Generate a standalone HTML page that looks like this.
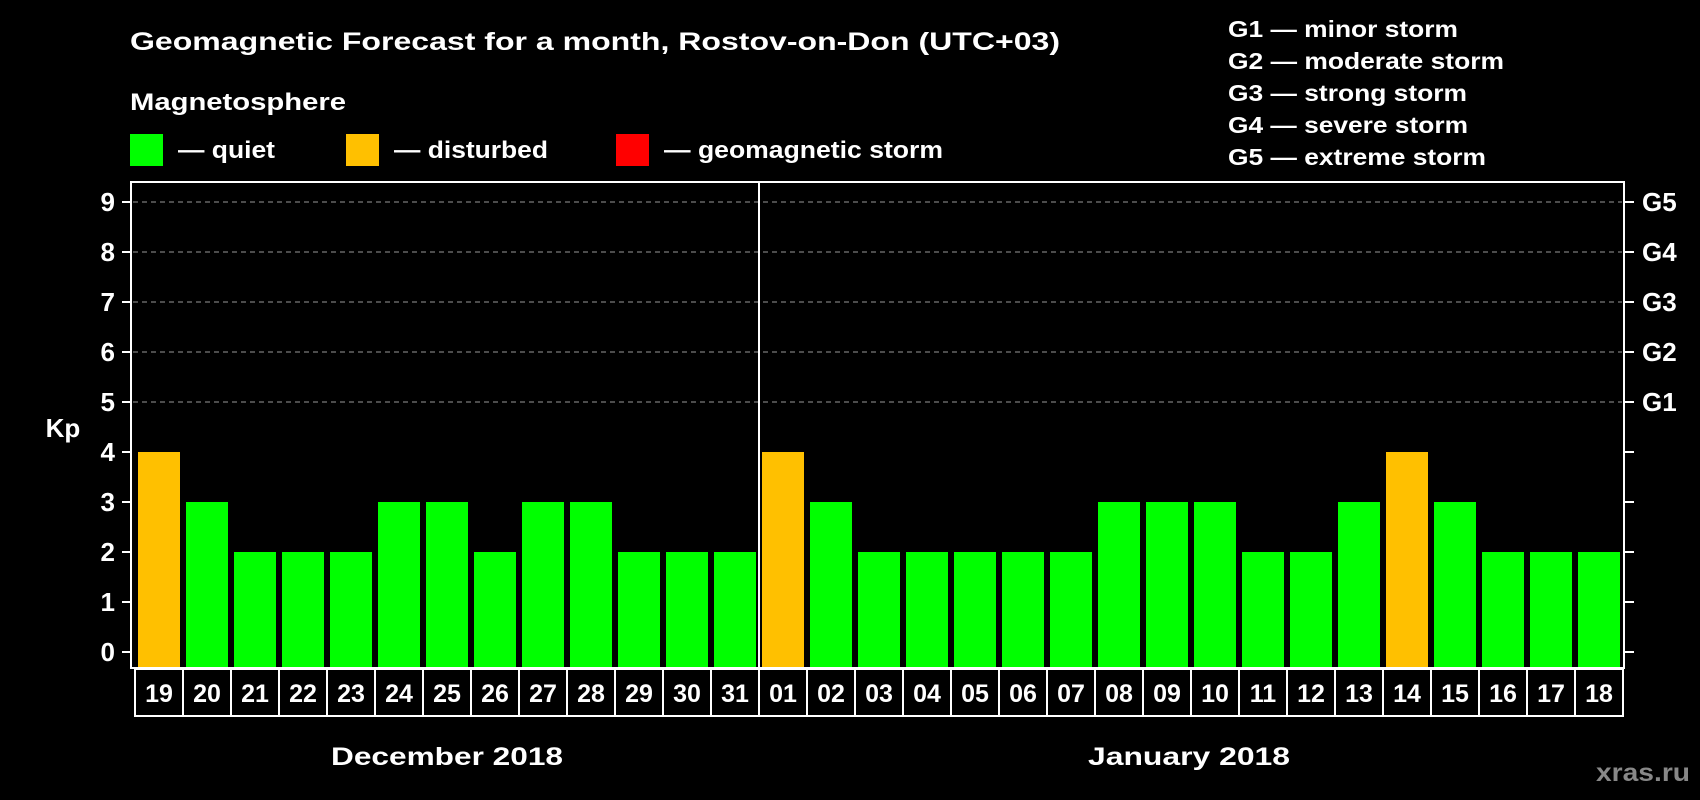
<!DOCTYPE html>
<html><head><meta charset="utf-8"><style>
html,body{margin:0;padding:0;background:#000;}
svg{display:block;font-family:"Liberation Sans",Arial,sans-serif;font-weight:bold;}
</style></head><body>
<svg id="chart" width="1700" height="800" viewBox="0 0 1700 800">
<rect width="1700" height="800" fill="#000"/>
<text x="130" y="50" fill="#fff" font-size="25" textLength="930" lengthAdjust="spacingAndGlyphs">Geomagnetic Forecast for a month, Rostov-on-Don (UTC+03)</text>
<text x="130" y="110" fill="#fff" font-size="24" textLength="216" lengthAdjust="spacingAndGlyphs">Magnetosphere</text>
<g>
<rect x="130" y="134" width="33" height="32" fill="#00ff00"/>
<text x="178" y="158" fill="#fff" font-size="24" textLength="97" lengthAdjust="spacingAndGlyphs">— quiet</text>
</g>
<g>
<rect x="346" y="134" width="33" height="32" fill="#ffc000"/>
<text x="394" y="158" fill="#fff" font-size="24" textLength="154" lengthAdjust="spacingAndGlyphs">— disturbed</text>
</g>
<g>
<rect x="616" y="134" width="33" height="32" fill="#ff0000"/>
<text x="664" y="158" fill="#fff" font-size="24" textLength="279" lengthAdjust="spacingAndGlyphs">— geomagnetic storm</text>
</g>
<g>
<text x="1228" y="37" fill="#fff" font-size="23" textLength="230" lengthAdjust="spacingAndGlyphs">G1 — minor storm</text>
<text x="1228" y="69" fill="#fff" font-size="23" textLength="276" lengthAdjust="spacingAndGlyphs">G2 — moderate storm</text>
<text x="1228" y="101" fill="#fff" font-size="23" textLength="239" lengthAdjust="spacingAndGlyphs">G3 — strong storm</text>
<text x="1228" y="133" fill="#fff" font-size="23" textLength="240" lengthAdjust="spacingAndGlyphs">G4 — severe storm</text>
<text x="1228" y="165" fill="#fff" font-size="23" textLength="258" lengthAdjust="spacingAndGlyphs">G5 — extreme storm</text>
</g>
<text x="63" y="437" fill="#fff" font-size="26" text-anchor="middle">Kp</text>
<g id="grid"></g>
<g id="bars"></g>
<g id="dates"></g>
<rect x="131" y="182" width="1493" height="486" fill="none" stroke="#fff" stroke-width="2"/>
<line x1="759" y1="182" x2="759" y2="668" stroke="#fff" stroke-width="2"/>
<text x="447" y="765" fill="#fff" font-size="25" text-anchor="middle" textLength="232" lengthAdjust="spacingAndGlyphs">December 2018</text>
<text x="1189" y="765" fill="#fff" font-size="25" text-anchor="middle" textLength="202" lengthAdjust="spacingAndGlyphs">January 2018</text>
<text x="1690" y="781" fill="#888" font-size="25" text-anchor="end" textLength="94" lengthAdjust="spacingAndGlyphs">xras.ru</text>
</svg>
<script>
const dates = ["19","20","21","22","23","24","25","26","27","28","29","30","31","01","02","03","04","05","06","07","08","09","10","11","12","13","14","15","16","17","18"];
const kpValues = [4,3,2,2,2,3,3,2,3,3,2,2,2,4,3,2,2,2,2,2,3,3,3,2,2,3,4,3,2,2,2];
const yTicks = [0,1,2,3,4,5,6,7,8,9];
const gLabels = ["","","","","","G1","G2","G3","G4","G5"];

const NS = "http://www.w3.org/2000/svg";
const y0 = 652, unit = 50;
const xLeft = 135, pitch = 48, barW = 42;
function yScale(v){ return y0 - v*unit; }
function xScale(i){ return xLeft + i*pitch; }
function mk(tag, attrs, parent){
  const e = document.createElementNS(NS, tag);
  for (const k in attrs) e.setAttribute(k, attrs[k]);
  parent.appendChild(e); return e;
}
const grid = document.getElementById('grid');
yTicks.forEach((t,i)=>{
  const y = yScale(t);
  if (t >= 5) {
    const g = mk('line',{x1:133,x2:1622,y1:y,y2:y,stroke:'#999','stroke-width':1,'stroke-dasharray':'5,4'},grid);
    
    
  }
  const lt = mk('line',{x1:122,x2:131,y1:y,y2:y,stroke:'#fff','stroke-width':2},grid);
  
  
  const rt = mk('line',{x1:1624,x2:1634,y1:y,y2:y,stroke:'#fff','stroke-width':2},grid);
  
  
  const lbl = mk('text',{x:115,y:y+9,fill:'#fff','font-size':26,'text-anchor':'end'},grid);
  lbl.textContent = String(t);
  
  
  if (gLabels[i]) {
    const gl = mk('text',{x:1642,y:y+9,fill:'#fff','font-size':26},grid);
    gl.textContent = gLabels[i];
    
    
  }
});
const bars = document.getElementById('bars');
const dg = document.getElementById('dates');
kpValues.forEach((v,i)=>{
  const color = v >= 5 ? '#ff0000' : (v >= 4 ? '#ffc000' : '#00ff00');
  const top = yScale(v);
  const b = mk('rect',{x:xScale(i)+3,y:top,width:barW,height:667-top,fill:color},bars);
  
  
  const box = mk('rect',{x:xScale(i),y:669,width:pitch,height:47,fill:'none',stroke:'#fff','stroke-width':2},dg);
  
  
  const t = mk('text',{x:xScale(i)+pitch/2,y:702,fill:'#fff','font-size':25,'text-anchor':'middle'},dg);
  t.textContent = dates[i];
  
  
});
</script>
</body></html>
